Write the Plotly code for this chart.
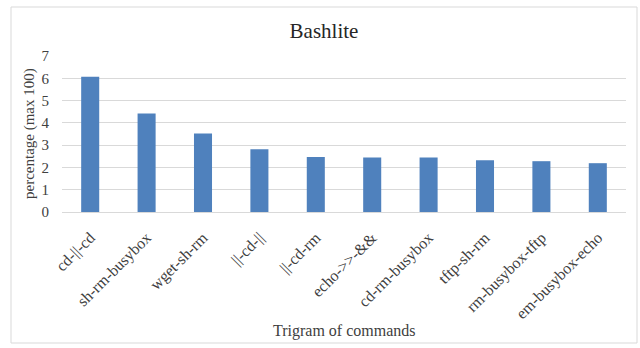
import plotly.graph_objects as go

categories = ["cd-||-cd", "sh-rm-busybox", "wget-sh-rm", "||-cd-||", "||-cd-rm",
              "echo->>-&&", "cd-rm-busybox", "tftp-sh-rm", "rm-busybox-tftp", "em-busybox-echo"]
values = [6.07, 4.42, 3.52, 2.82, 2.47, 2.44, 2.44, 2.32, 2.28, 2.19]
y_ticks = [0, 1, 2, 3, 4, 5, 6, 7]

FONT = "Liberation Serif, Times New Roman, serif"
TXT = "#404040"

fig = go.Figure(go.Bar(x=categories, y=values, marker=dict(color="#4F81BD", line=dict(width=0)),
                       width=0.32))

fig.update_layout(
    width=640, height=348,
    margin=dict(l=62, r=14, t=56, b=136),
    paper_bgcolor="white", plot_bgcolor="white",
    font=dict(family=FONT, color=TXT, size=15),
    title=dict(text="Bashlite", x=324 / 640, xref="container", xanchor="center",
               y=1 - 31 / 348, yref="container", yanchor="middle",
               font=dict(family=FONT, size=21, color="#262626")),
    showlegend=False,
    shapes=[dict(type="rect", xref="paper", yref="paper", x0=-51 / 564, x1=(637 - 62) / 564,
                 y0=-(343 - 212) / 156, y1=(212 - 7) / 156,
                 line=dict(color="#d9d9d9", width=1), layer="below")],
    annotations=[
        dict(text="percentage (max 100)", xref="paper", yref="paper", x=-(62 - 29) / 564, y=0.5,
             xanchor="center", yanchor="middle", textangle=-90, showarrow=False,
             font=dict(family=FONT, size=15, color=TXT)),
        dict(text="Trigram of commands", xref="paper", yref="paper", x=(344 - 62) / 564,
             y=-(331 - 212) / 156, xanchor="center", yanchor="middle", showarrow=False,
             font=dict(family=FONT, size=16, color=TXT)),
    ],
)
fig.update_xaxes(
    tickangle=-45, showgrid=False, showline=True, linecolor="#d9d9d9", linewidth=1,
    ticks="outside", ticklen=9, tickcolor="rgba(0,0,0,0)",
    tickfont=dict(family=FONT, size=16, color=TXT),
    automargin=False,
)
fig.update_yaxes(
    range=[0, 7], tickvals=y_ticks, showgrid=True, gridcolor="#d9d9d9", gridwidth=1,
    zeroline=False, showline=False, ticks="outside", ticklen=9, tickcolor="rgba(0,0,0,0)",
    tickfont=dict(family=FONT, size=15, color=TXT),
    automargin=False,
)

fig.write_html("out.html")
